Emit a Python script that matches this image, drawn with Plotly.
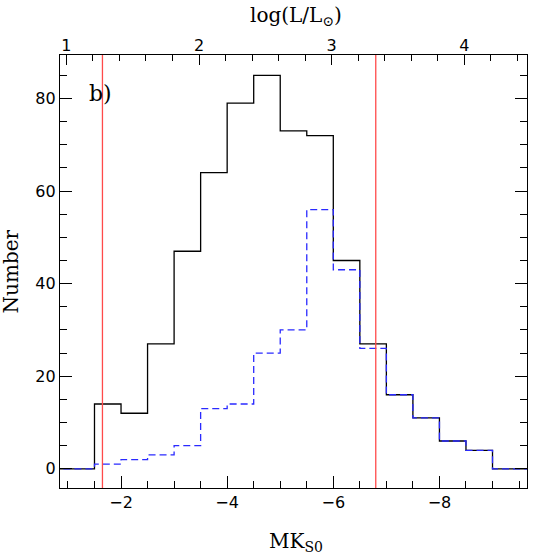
import plotly.graph_objects as go

# Bin edges (MK_S0, magnitude) and counts per bin
edges = [-0.5, -1.0, -1.5, -2.0, -2.5, -3.0, -3.5, -4.0, -4.5, -5.0, -5.5,
         -6.0, -6.5, -7.0, -7.5, -8.0, -8.5, -9.0, -9.5, -10.0]
total_counts = [0, 0, 14, 12, 27, 47, 64, 79, 85, 73, 72, 45, 27, 16, 11, 6, 4, 0, 0]
subset_counts = [0, 0, 1, 2, 3, 5, 13, 14, 25, 30, 56, 43, 26, 16, 11, 6, 4, 0, 0]
limits = [-1.65, -6.8]          # vertical red lines (MK_S0)
x_range = [-0.85, -9.65]
y_range = [-4.15, 89.4]
M0 = 1.53                       # log(L/Lsun) = -0.4 (M - M0)


def to_logl(m):
    return -0.4 * (m - M0)


FONT_T = "DejaVu Serif"
FONT_K = "DejaVu Sans"

fig = go.Figure()
fig.add_trace(go.Scatter(x=edges, y=total_counts + [total_counts[-1]], mode="lines",
                         line=dict(shape="hv", color="black", width=1.3),
                         showlegend=False, hoverinfo="skip"))
fig.add_trace(go.Scatter(x=edges, y=subset_counts + [subset_counts[-1]], mode="lines",
                         line=dict(shape="hv", color="#2a2aff", width=1.3, dash="7px,4px"),
                         showlegend=False, hoverinfo="skip"))
# invisible trace for the top axis
fig.add_trace(go.Scatter(x=[to_logl(x_range[0])], y=[0], xaxis="x2", mode="markers",
                         marker=dict(opacity=0), showlegend=False, hoverinfo="skip"))

for xv in limits:
    fig.add_shape(type="line", xref="x", yref="paper", x0=xv, x1=xv, y0=0, y1=1,
                  line=dict(color="#ff4a4a", width=1.3), layer="above")

title_font = dict(family=FONT_T, size=20, color="black")
fig.add_annotation(text="b)", xref="paper", yref="paper", x=0.086, y=0.911,
                   xanchor="center", yanchor="middle",
                   showarrow=False, font=dict(family=FONT_T, size=22, color="black"))
fig.add_annotation(text="Number", xref="paper", yref="paper", x=-0.105, y=0.5,
                   xanchor="center", yanchor="middle",
                   textangle=-90, showarrow=False, font=title_font)
fig.add_annotation(text="MK<sub>S0</sub>", xref="paper", yref="paper", x=0.505, y=-0.125,
                   xanchor="center", yanchor="middle", showarrow=False, font=title_font)
fig.add_annotation(text="log(L/L<sub>\u2299</sub>)", xref="paper", yref="paper", x=0.505, y=1.09,
                   xanchor="center", yanchor="middle", showarrow=False, font=title_font)

tickfont = dict(family=FONT_K, size=16, color="black")
fig.update_layout(
    width=556, height=556,
    margin=dict(l=60, r=29, t=55, b=68),
    paper_bgcolor="white", plot_bgcolor="white",
    xaxis=dict(range=x_range, showgrid=False, zeroline=False, automargin=False,
               showline=True, mirror=True, linecolor="black", linewidth=1.3,
               ticks="inside", ticklen=12, tickwidth=1.2, tickcolor="black",
               tickvals=[-2, -4, -6, -8], ticktext=["\u22122", "\u22124", "\u22126", "\u22128"],
               minor=dict(ticks="inside", ticklen=7, tickwidth=1.2, tickcolor="black",
                          tick0=0, dtick=0.5, showgrid=False),
               tickfont=tickfont),
    xaxis2=dict(range=[to_logl(x_range[0]), to_logl(x_range[1])], overlaying="x", side="top",
                showgrid=False, zeroline=False, showline=False, automargin=False,
                ticks="inside", ticklen=10, tickwidth=1.2, tickcolor="black",
                tick0=0, dtick=1,
                minor=dict(ticks="inside", ticklen=6, tickwidth=1.2, tickcolor="black",
                           tick0=0, dtick=0.2, showgrid=False),
                tickfont=tickfont),
    yaxis=dict(range=y_range, showgrid=False, zeroline=False, automargin=False,
               showline=True, mirror="ticks", linecolor="black", linewidth=1.3,
               ticks="inside", ticklen=12, tickwidth=1.2, tickcolor="black",
               tick0=0, dtick=20,
               minor=dict(ticks="inside", ticklen=7, tickwidth=1.2, tickcolor="black",
                          tick0=0, dtick=5, showgrid=False),
               tickfont=tickfont),
)

fig.write_html("out.html", config={"displayModeBar": False},
               post_script="document.body.style.margin='0';document.body.style.padding='0';")
